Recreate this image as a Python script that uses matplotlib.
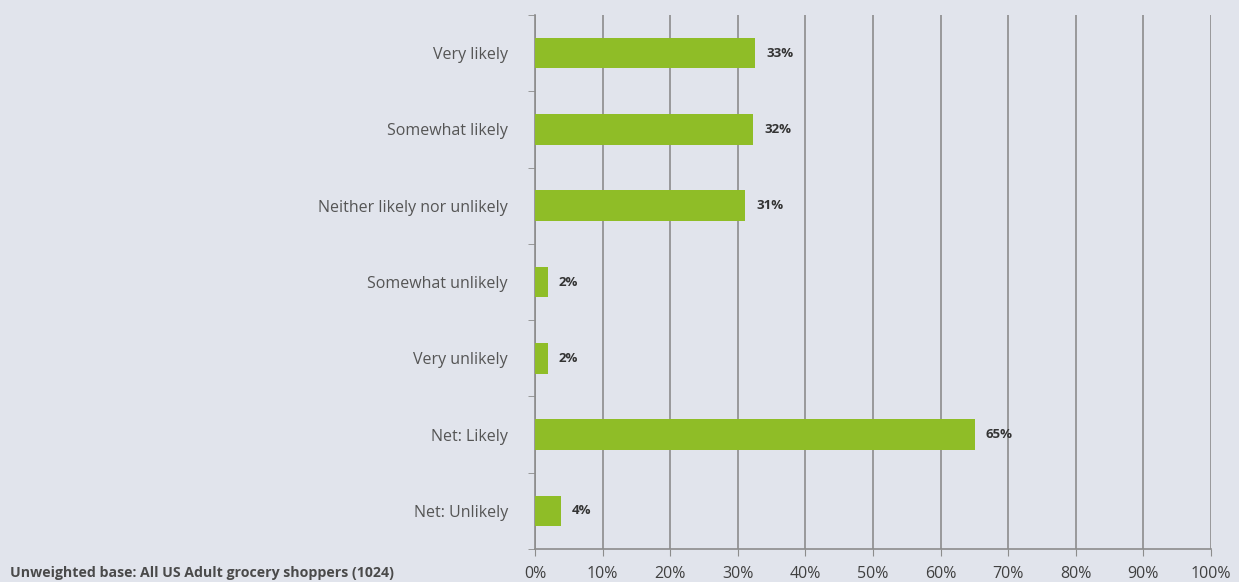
import numpy as np
import matplotlib.pyplot as plt
from matplotlib.ticker import FixedLocator

categories = ['Very likely', 'Somewhat likely', 'Neither likely nor unlikely',
              'Somewhat unlikely', 'Very unlikely', 'Net: Likely', 'Net: Unlikely']
values = [32.6, 32.3, 31.1, 1.9, 1.9, 65.1, 3.8]
value_labels = ['33%', '32%', '31%', '2%', '2%', '65%', '4%']
x_ticks = list(range(0, 101, 10))
footnote = 'Unweighted base: All US Adult grocery shoppers (1024)'

bg = '#e1e4ec'
green = '#8fbd27'
grid_col = '#8c8c8c'
text_col = '#4a4a4a'

plt.rcParams['font.family'] = ['Open Sans', 'DejaVu Sans']

fig = plt.figure(figsize=(12.39, 5.82), dpi=100, facecolor=bg)
ax = fig.add_axes([0.4318, 0.0567, 0.5456, 0.9175], facecolor=bg)

y = np.arange(len(categories))
ax.barh(y, values, height=0.4, color=green, zorder=3)
for yi, v, lab in zip(y, values, value_labels):
    ax.text(v + 1.6, yi, lab, va='center', ha='left', fontsize=9.5,
            fontweight='bold', color='#333333', zorder=4)

ax.set_xlim(0, 100)
ax.set_ylim(len(categories) - 0.5, -0.5)
ax.set_xticks(x_ticks)
ax.set_xticklabels([f'{t}%' for t in x_ticks], fontsize=11.5, color='#404040')
ax.set_yticks(y)
ax.set_yticklabels(categories, fontsize=11.5, color='#555555')
ax.yaxis.set_minor_locator(FixedLocator(np.arange(-0.5, len(categories), 1)))
ax.tick_params(axis='y', which='major', length=0, pad=19.5)
ax.tick_params(axis='y', which='minor', length=5, color=grid_col, direction='out')
ax.tick_params(axis='x', length=5, color=grid_col, pad=7)

ax.grid(axis='x', color=grid_col, linewidth=1.2, zorder=0)
for s in ['top', 'right']:
    ax.spines[s].set_visible(False)
for s in ['left', 'bottom']:
    ax.spines[s].set_color(grid_col)
    ax.spines[s].set_linewidth(1.2)

fig.text(0.008, 0.0155, footnote, fontsize=10.2, fontweight='bold',
         color=text_col, ha='left', va='center')

fig.savefig('out.png', dpi=100, facecolor=bg)
